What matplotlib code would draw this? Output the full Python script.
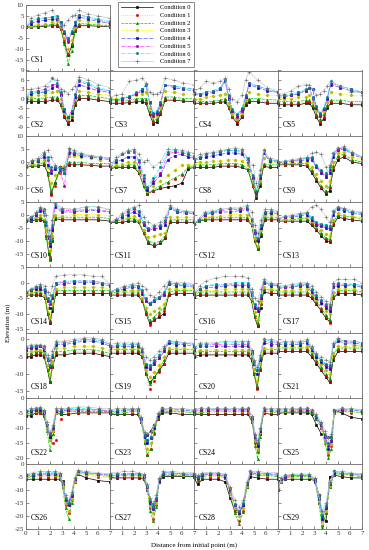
import matplotlib
matplotlib.use("Agg")
import matplotlib.pyplot as plt

plt.rcParams['font.family'] = ['Liberation Serif', 'DejaVu Serif']

CONDITIONS = ["Condition 0", "Condition 1", "Condition 2", "Condition 3",
              "Condition 4", "Condition 5", "Condition 6", "Condition 7"]

X_TICKS = [0, 1, 2, 3, 4, 5, 6, 7]

# ---- data: x positions and elevations for Conditions 0..7 ----
CS1_X = [0, 0.4, 1.0, 1.6, 2.2, 2.6, 2.9, 3.2, 3.5, 3.8, 4.1, 4.4, 5.2, 6.0, 7.0]
CS1_Y = [[0, 0, 0, 0.3, 0.5, 0.5, -1, -7, -13, -9, -2, 0.5, 0.5, 0.3, 0],
         [0, 0.2, 0.3, 0.5, 0.8, 1, -1, -6, -12.5, -8, -1, 1, 1, 0.5, 0.3],
         [0, 0.3, 0.5, 0.8, 1.2, 1.5, -0.5, -8, -17, -11, -2, 1.5, 1.3, 0.8, 0.5],
         [0, 0.6, 1.2, 1.5, 2, 2.5, 0, -5, -10, -6, 0, 3, 2.5, 1.5, 1],
         [0, 1.5, 2.5, 3, 3.5, 3.5, 1, -3, -6, -3, 1, 4.5, 3.5, 2.5, 1.5],
         [0, 2, 3.5, 4, 4.5, 4.5, 2, -3, -7, -3, 2, 5.5, 4.5, 3, 2],
         [0, 2.5, 4, 4, 4.5, 5, 2, -2, -5, -2, 2, 5.5, 4.5, 3.5, 2.5],
         [0, 4, 5.5, 6.5, 7.5, 4, 0.5, 1, 3, 5, 5.5, 7.5, 6, 5, 4]]

CS2_X = [0, 0.4, 1.0, 1.6, 2.2, 2.6, 2.9, 3.2, 3.5, 3.8, 4.1, 4.4, 5.2, 6.0, 7.0]
CS2_Y = [[-1, -1, -1, -1, -0.5, -0.5, -2, -6, -8, -7, -2, 0, 0, -0.5, -1],
         [-0.5, -0.5, -0.5, -0.3, 0, 0, -2, -5.5, -7.5, -6, -1.5, 0.5, 0.5, 0, -0.3],
         [0, 0, 0, 0.2, 0.5, 0.5, -1.5, -5, -7, -5.5, -1, 1, 1, 0.5, 0],
         [0, 0.5, 1, 1.2, 2, 2.5, 0, -4.5, -6.5, -5, 0, 2.5, 2, 1.5, 1],
         [0, 1.5, 2, 2, 3.5, 4, 1, -4, -6, -4.5, 0.5, 4.5, 3.5, 2.5, 2],
         [0, 2, 2.5, 3, 4.5, 4.5, 1.5, -3.5, -6, -4, 1, 5.5, 4.5, 3, 2.5],
         [0, 2, 2, 2.5, 6.5, 5, 2, -3.5, -6, -4, 1.5, 6, 5, 3.5, 2.5],
         [0.5, 3, 3.5, 4, 6.5, 6, 3, 2.5, 1.5, 3, 4, 7, 6, 4.5, 3.5]]

CS3_X = [0, 0.5, 1.0, 1.6, 2.2, 2.7, 3.0, 3.3, 3.6, 3.9, 4.2, 4.6, 5.3, 6.1, 7.0]
CS3_Y = [[-1.5, -1.5, -1.5, -1.3, -1, -1, -1.5, -5, -8, -7.5, -5, -0.5, -0.5, -0.8, -1],
         [-1, -1, -1, -0.8, -0.5, -0.5, -1, -4.5, -7.5, -7, -4.5, 0, 0, -0.5, -0.5],
         [-0.5, -0.5, -0.5, -0.5, 0, 0, 0, -4, -7, -6.5, -4, 0.5, 0.5, 0, 0],
         [0, 0, 0.3, 0.5, 1, 1.5, 2, -3, -6, -5.5, -3, 2.5, 2, 1.5, 1.5],
         [0, -0.5, 0, 0.5, 1.5, 2.5, 4.5, -1, -5, -4.5, -1.5, 4.5, 3.5, 3, 2.5],
         [0, -0.5, 0, 0.5, 1.5, 3, 4.5, -1.5, -5.5, -5, -2, 4.5, 4, 3.5, 3],
         [0, -0.5, 0.2, 0.8, 2, 3, 4.5, -1, -4.5, -4, -1, 4.5, 4, 3.5, 3],
         [0.5, 1, 1.5, 5.5, 6, 6.5, 5, 2, 1.5, 1.5, 2, 6.5, 6, 5, 4.5]]

CS4_X = [0, 0.5, 1.0, 1.6, 2.2, 2.6, 2.9, 3.2, 3.6, 4.0, 4.3, 4.6, 5.3, 6.1, 7.0]
CS4_Y = [[-1.5, -1.5, -1.5, -1.5, -1.2, -1, -3, -6, -8, -6, -2, -1, -1, -1.5, -1.5],
         [-1, -1.5, -1.5, -1.2, -1, -0.5, -3, -6, -7.5, -5.5, -1.5, -0.5, -0.5, -1, -1],
         [-0.5, -1, -1, -0.8, -0.5, 0, -2.5, -5.5, -7, -5, -1, 0, 0, -0.3, -0.5],
         [0, 0, 0.5, 0.8, 1, 1.5, -1.5, -5, -6.5, -4.5, -0.5, 2, 1.5, 1, 1],
         [1.5, 1, 1.5, 2, 3, 5.5, 0, -4, -5.5, -3.5, 0.5, 4.5, 3.5, 2.5, 2],
         [1.5, 1.5, 2, 2.5, 3.5, 6, 0.5, -4, -6, -4, 0.5, 5, 4, 3, 2],
         [2, 1.5, 2, 2.5, 3.5, 6, 1, -3.5, -5, -3, 1, 5, 4, 3, 2],
         [2, 3.5, 5.5, 5, 5.5, 6.5, 3, 0, -1, 1, 6, 8.5, 6, 3.5, 2.5]]

CS5_X = [0, 0.5, 1.1, 1.7, 2.3, 2.6, 2.9, 3.2, 3.5, 3.8, 4.1, 4.4, 5.2, 6.1, 7.0]
CS5_Y = [[-2, -2, -2, -2, -1.5, -1.5, -3, -6, -8, -6.5, -3, -1.5, -1.5, -2, -2],
         [-1.5, -1.5, -1.5, -1.5, -1, -1, -2.5, -5.5, -7.5, -6, -2.5, -1, -1, -1.5, -1.5],
         [-1, -1, -1, -1, -0.5, -0.5, -2, -5, -6.5, -5, -2, -0.5, -0.5, -1, -1],
         [0, 0, 0, 0.5, 0.5, 1, -1, -4, -5.5, -4, -1, 2, 1.5, 1, 1],
         [0.5, 0.5, 1, 1.5, 2.5, 3.5, 3, -3, -5, -3.5, 0, 4.5, 3.5, 2.5, 2],
         [1, 1, 1, 2, 2.5, 3.5, 0, -3, -5.5, -3.5, 0, 5, 4, 3, 2],
         [1, 1, 1.5, 2, 3, 3.5, 0.5, -2.5, -4.5, -3, 0.5, 5.5, 4, 3, 2],
         [1.5, 1.5, 2.5, 4, 4.5, 4.5, 3, 1, 1.5, 2.5, 4, 5.5, 4, 2, 2]]

CS6_X = [0, 0.5, 1.0, 1.5, 1.8, 2.1, 2.4, 2.8, 3.2, 3.6, 4.0, 4.6, 5.4, 6.2, 7.0]
CS6_Y = [[-2, -1.5, -1.5, -1, -4, -12, -8, -3, -2, -1, -1, -1, -1.2, -1.5, -1.5],
         [-2, -1.5, -1, -0.5, -5, -12.5, -9, -4, -3, -0.5, -0.5, -0.5, -1, -1, -1],
         [-2, -1, -1, 0, -4, -11, -8, -3.5, -2.5, 0, 0, 0, -0.5, -0.5, -0.5],
         [-2, -0.5, 0, 1, -2, -8, -5, -2, -1.5, 2.5, 2.5, 2, 1.5, 1, 1],
         [-1.5, 0, 0.5, 2, -1, -4, -2.5, -2, -4, 3.5, 3, 2.5, 2, 1.5, 1],
         [-1.5, 0.5, 1, 3, 1, -3, -2, -3, -9, 4, 3.5, 3, 2.5, 2, 1.5],
         [-1.5, 0.5, 1, 3, 2, -2, -2, -2.5, -4, 5, 4, 3, 2.5, 2, 1.5],
         [-1.5, 1, 1.5, 4, 4.5, 2, -1, -2, -2, 5.5, 4.5, 3.5, 2.5, 2, 1.5]]

CS7_X = [0, 0.5, 1.0, 1.5, 2.0, 2.4, 2.8, 3.1, 3.6, 4.2, 4.8, 5.4, 6.0, 6.5, 7.0]
CS7_Y = [[-2.5, -2, -2, -2, -2, -4, -9, -12, -11, -10, -9.5, -9, -8, -2.5, -2],
         [-2, -1.5, -1.5, -1.5, -1.5, -4, -9, -12, -11, -9.5, -8, -6.5, -5, -2, -2],
         [-2, -1.5, -1.5, -1, -1, -3.5, -9, -12, -10.5, -9, -7.5, -6, -4.5, -2, -1.5],
         [-2, -1, -0.5, 0, 0, -3, -8, -11, -9, -7, -5, -3, -1, -1, -1],
         [-2, 0, 1, 2, 2, -2, -7, -10.5, -8, -5, 1, 2.5, 3, 2, 1.5],
         [-2, 1, 3, 4, 4, 0, -6, -10, -7, -4, 3, 4, 3.5, 3, 2],
         [-2, 1, 3, 4, 4.5, 1, -5, -9.5, -6, -2, 4, 4.5, 4, 3, 2.5],
         [-2, 2, 3.5, 4.5, 5, 3, 0, 1, -2, 0, 5, 5, 4.5, 4, 3.5]]

CS8_X = [0, 0.5, 1.0, 1.6, 2.2, 2.8, 3.4, 4.0, 4.5, 4.9, 5.2, 5.5, 5.8, 6.3, 7.0]
CS8_Y = [[-2, -2, -2, -2, -1.5, -1.5, -1.5, -2, -3, -9, -13.5, -9, -1.5, -2, -2],
         [-1.5, -1.5, -1.5, -1.5, -1, -1, -1, -1.5, -3, -9, -13, -8, -1, -1.5, -1.5],
         [-1, -1, -1, -1, -0.5, -0.5, -0.5, -1, -2.5, -8.5, -13, -8, -0.5, -1, -1],
         [-0.5, 0, 0, 0.5, 0.5, 1, 1, 0.5, -1, -7, -12, -7, 1.5, 0, -0.5],
         [0.5, 1.5, 2, 2.5, 3, 3.5, 3.5, 3, 0, -6, -11.5, -6, 3.5, 0.5, 0],
         [1, 2, 3, 3.5, 4, 4.5, 4.5, 4, 1, -5.5, -12, -5.5, 4, 1, 0.5],
         [1, 2, 3, 3.5, 4, 4.5, 4.5, 4.5, 1.5, -5, -11, -5, 4.5, 1, 0.5],
         [1.5, 3, 3.5, 4, 4.5, 5, 5.5, 5, 0, -1, -8, -3, 4.5, 1.5, 1]]

CS9_X = [0, 0.6, 1.2, 1.8, 2.4, 2.8, 3.2, 3.6, 4.0, 4.3, 4.6, 5.0, 5.5, 6.2, 7.0]
CS9_Y = [[-1, -1, -1, -1, -1.5, -4, -7, -10, -12, -11, -3, 1, 2, 0, -0.5],
         [-1, -1, -1, -0.5, -1, -3.5, -6.5, -9.5, -11.5, -10, -2, 2, 2.5, 0.5, 0],
         [-0.5, -0.5, -0.5, -0.5, -0.5, -3, -6, -9, -11, -9, -1.5, 2.5, 3, 1, 0],
         [0, 0, 0, 0, 0, -2, -4.5, -7, -9, -7, 0, 3.5, 4, 2, 1],
         [0, 0, 0.5, 0.5, 1, 1, -2, -4, -5.5, -4, 2, 4.5, 5, 3, 1.5],
         [0, 0.5, 0.5, 1, 1.5, 1.5, -1.5, -3.5, -5, -3, 3, 5, 5.5, 3.5, 2],
         [0, 0.5, 1, 1, 1.5, 2, -1, -3, -4, -2, 3.5, 5.5, 5.5, 3.5, 2],
         [0, 0.5, 1, 1.5, 2, 3.5, 4, 3, -2, -1, 3.5, 5.5, 6, 4, 2]]

CS10_X = [0, 0.4, 0.8, 1.2, 1.5, 1.7, 1.9, 2.0, 2.15, 2.4, 3.0, 4.0, 5.0, 6.0, 7.0]
CS10_Y = [[-2.5, -2.5, -2, -2, -2.5, -8, -15, -17, -10, -1.5, -2, -2, -2, -2, -2.5],
          [-2.5, -2, -2, -1.5, -2, -8, -14, -16, -9, -1, -1.5, -1.5, -1.5, -1.5, -2],
          [-2.5, -2, -1.5, -1, -2, -9, -15, -17.5, -10, -1, -1, -1, -1, -1, -1.5],
          [-2, -1.5, -1, 0, 0, -6, -11, -14, -8, 0, -0.5, 0, 0, 0, -0.5],
          [-2, -1.5, 0, 1.5, 1, -4, -9, -12, -6, 3, 1, 1, 1.5, 1.5, 1],
          [-2, -1, 0, 2, 1.5, -3, -9, -11, -5, 3.5, 1.5, 1.5, 2, 2, 1],
          [-2, -1, 0.5, 2.5, 2, -3, -8, -10, -4, 4, 2, 2, 3, 3, 1.5],
          [-2, -1, 1, 3, 2, 0, -6, -8, -2, 4.5, 2.5, 2, 3, 3, 2]]

CS11_X = [0, 0.5, 1.0, 1.5, 2.0, 2.4, 2.8, 3.2, 3.7, 4.2, 4.6, 5.0, 5.6, 6.3, 7.0]
CS11_Y = [[-3, -3, -3, -2.5, -2.5, -3, -7, -11, -12, -11, -9, -3, -3, -3, -3],
          [-3, -2.5, -2.5, -2, -2, -3, -7, -10.5, -11.5, -10.5, -8.5, -2.5, -2.5, -2.5, -2.5],
          [-3, -2.5, -2, -1.5, -1.5, -2.5, -6.5, -10, -11, -10, -8, -2, -2, -2, -2],
          [-3, -2, -1.5, -1, -0.5, -2, -6, -8.5, -8, -7.5, -7, -1, -1, -1, -1],
          [-3, -2, -1, 0, 1, 0, -4, -6, -5.5, -5, -4, 2.5, 1, 0.5, 0.5],
          [-3, -2, -0.5, 1, 2, 1, -3.5, -5.5, -5, -4.5, -3, 3, 1.5, 1, 1],
          [-3, -2, 0, 1.5, 2.5, 1.5, -3, -5, -4.5, -4, -2, 3, 1.5, 1, 1],
          [-3, -1.5, 0.5, 2, 3, 3.5, -1, -3, -4, -3, -1, 3.5, 2, 1.5, 1]]

CS12_X = [0, 0.4, 0.9, 1.5, 2.2, 3.0, 3.8, 4.4, 4.8, 5.05, 5.3, 5.55, 5.9, 6.4, 7.0]
CS12_Y = [[-3.5, -2.5, -2, -2, -2, -2, -2, -2, -4, -10, -13, -8, -2, -2, -2],
          [-3.5, -2.5, -1.5, -1.5, -1.5, -1.5, -1.5, -1.5, -4, -10, -12.5, -7.5, -1.5, -1.5, -1.5],
          [-3.5, -2.5, -1.5, -1, -1, -1, -1, -1, -3.5, -9.5, -13, -7, -1, -1, -1],
          [-3.5, -2, -1, -0.5, -0.5, 0, 0, 0, -3, -9, -12, -6, 0, 0, 0],
          [-3.5, -2, 0, 0.5, 1, 1, 1.5, 2, -2, -7, -10, -5, 0.5, 0.5, 0.5],
          [-3.5, -2, 0, 1, 1.5, 2, 2, 2.5, -2, -6.5, -9.5, -4, 1, 1, 1],
          [-3.5, -2, 0.5, 1, 2, 2.5, 2.5, 3, -1.5, -6, -9, -4, 1, 1.5, 1],
          [-3.5, -1.5, 1, 1.5, 2, 2.5, 2.5, 3.5, 1, -4, -7, -2, 2, 2, 1.5]]

CS13_X = [0, 0.6, 1.2, 1.8, 2.4, 2.8, 3.2, 3.6, 4.0, 4.3, 4.6, 5.0, 5.5, 6.2, 7.0]
CS13_Y = [[-2.5, -2.5, -2.5, -2.5, -2.5, -4, -6, -8, -10, -10.5, -4, -1, -1.5, -2, -2.5],
          [-2.5, -2.5, -2, -2, -2, -3.5, -5.5, -7.5, -9.5, -10, -3.5, -0.5, -1, -1.5, -2],
          [-2, -2, -2, -1.5, -1.5, -3, -5, -7, -9, -9.5, -3, 0, -0.5, -1, -1.5],
          [-2, -1.5, -1.5, -1, -1, -2.5, -4.5, -6, -7.5, -8, -2, 0.5, 0, -0.5, -1],
          [-1.5, -1, -1, -0.5, 0, -2, -4, -4.5, -5, -5.5, 0, 2, 1.5, 0.5, 0],
          [-1.5, -1, -0.5, 0, 0.5, -1.5, -3.5, -4, -4.5, -5, 1, 2.5, 2, 1, 0.5],
          [-1.5, -0.5, -0.5, 0, 0.5, -1, -3, -3.5, -4, -4.5, 1.5, 3, 2, 1, 0.5],
          [-1.5, -0.5, 0, 0.5, 1, 3, 3.5, 2, -1, -3, 1.5, 3, 2.5, 1.5, 1]]

CS14_X = [0, 0.4, 0.8, 1.2, 1.6, 1.8, 2.0, 2.2, 2.5, 3.2, 4.0, 4.8, 5.6, 6.3, 7.0]
CS14_Y = [[-4, -4, -4, -4, -5, -10, -13, -9, -3.5, -3.5, -3.5, -3.5, -3.5, -3.5, -3.5],
          [-4, -3.5, -3.5, -3.5, -5, -10, -12.5, -8, -3, -3, -3, -3, -3, -3, -3],
          [-3.5, -3.5, -3, -3, -4.5, -9.5, -12, -8, -2.5, -2.5, -2.5, -2.5, -2.5, -2.5, -2.5],
          [-3.5, -3, -2.5, -2.5, -4, -8, -11, -7, -2, -1.5, -1.5, -1.5, -1.5, -1.5, -2],
          [-3, -2.5, -2, -2, -3, -6, -8, -5, -0.5, -0.5, 0, 0, 0, -0.5, -1],
          [-3, -2.5, -1.5, -1.5, -2.5, -5.5, -7, -4.5, 0, 0, 0.5, 0.5, 0.5, 0, -0.5],
          [-3, -2, -1.5, -1, -2, -5, -6, -4, 0, 0.5, 0.5, 0.5, 0.5, 0, -0.5],
          [-3, -2, -1, -0.5, -1, -3, -4, -1, 2, 2.5, 2.5, 2.5, 2, 2, -0.5]]

CS15_X = [0, 0.6, 1.2, 1.8, 2.3, 2.7, 3.0, 3.3, 3.7, 4.1, 4.5, 4.9, 5.5, 6.2, 7.0]
CS15_Y = [[-4, -4, -4, -4, -4, -6, -10, -13, -12, -11, -10, -4, -3.5, -3.5, -3.5],
          [-3.5, -3.5, -3.5, -3.5, -3.5, -6, -10, -13.5, -12, -10.5, -9, -3.5, -3, -3, -3],
          [-3.5, -3, -3, -3, -3, -5.5, -9, -12, -11, -9.5, -8, -3, -2.5, -2.5, -2.5],
          [-3, -2.5, -2.5, -2.5, -2.5, -5, -8, -10, -9, -8, -7, -2, -2, -2, -2],
          [-3, -2.5, -2, -1.5, -1.5, -3.5, -6, -7, -6, -5, -4, -0.5, -1, -1, -1.5],
          [-3, -2, -1.5, -1, -1, -3, -5.5, -6.5, -5.5, -4.5, -3.5, 0, -0.5, -0.5, -1],
          [-3, -2, -1.5, -1, -1, -2.5, -5, -6.5, -5.5, -4.5, -3, 0, -0.5, -0.5, -1],
          [-3, -2, -1, -0.5, 0, -1, -2, -4, -4.5, -3, -1, 0.5, 0, 0, -0.5]]

CS16_X = [0, 0.5, 1.0, 1.8, 2.6, 3.4, 4.0, 4.5, 4.8, 5.05, 5.3, 5.55, 5.8, 6.4, 7.0]
CS16_Y = [[-4.5, -4, -4, -4, -4, -4, -4, -4, -6, -11, -14, -8, -3, -3.5, -3.5],
          [-4, -3.5, -3.5, -3.5, -3.5, -3.5, -3.5, -3.5, -6, -11, -13.5, -7, -2.5, -3, -3],
          [-4, -3, -3, -3, -3, -3, -3, -3, -5.5, -10.5, -13, -7, -2, -2.5, -2.5],
          [-3.5, -2.5, -2.5, -2.5, -2, -2, -2, -2, -5, -9.5, -12, -6, -1.5, -2, -2],
          [-3.5, -2, -1.5, -1.5, -1, -1, -1, -1, -4, -8, -9, -5, 0, -1, -1],
          [-3.5, -2, -1, -1, -0.5, -0.5, -0.5, -0.5, -3.5, -7.5, -8.5, -4.5, 0, -0.5, -0.5],
          [-3.5, -2, -1, -0.5, -0.5, 0, 0, 0, -3, -7, -8, -4, 0.5, -0.5, -0.5],
          [-3, -1, 0.5, 1.5, 2, 2, 2, 1.5, -2, -5, -6, -2, 1, 0, -0.5]]

CS17_X = [0, 0.6, 1.2, 1.8, 2.4, 2.8, 3.2, 3.6, 4.0, 4.3, 4.6, 5.0, 5.6, 6.3, 7.0]
CS17_Y = [[-4, -4, -4, -4, -4, -5, -7, -9, -11.5, -12.5, -5, -3.5, -3.5, -3.5, -4],
          [-3.5, -3.5, -3.5, -3.5, -3.5, -4.5, -6.5, -8.5, -11, -13, -4.5, -3, -3, -3, -3.5],
          [-3, -3, -3, -3, -3, -4, -6, -8, -10.5, -12, -4, -2.5, -2.5, -2.5, -3],
          [-2.5, -2.5, -2.5, -2, -2, -3.5, -5.5, -7, -9, -10, -3, -2, -2, -2, -2.5],
          [-2, -1.5, -1.5, -1, -1, -3, -5, -6.5, -8, -9, -1.5, -1, -1, -1, -1.5],
          [-1.5, -1.5, -1, -1, -0.5, -2.5, -4.5, -6, -7.5, -8, -1, -0.5, -0.5, -0.5, -1],
          [-1.5, -1, -1, -0.5, -0.5, -2, -4, -5.5, -7, -7.5, -0.5, 0, -0.5, -0.5, -1],
          [-1, -1, -0.5, 0, 0, -1, -3, -4.5, -6, -7, 0, 1, 1, 1, 0]]

CS18_X = [0, 0.4, 0.8, 1.2, 1.5, 1.8, 2.0, 2.2, 2.5, 3.2, 4.0, 4.8, 5.6, 6.3, 7.0]
CS18_Y = [[-5, -5, -4.5, -4.5, -5, -9, -12.5, -8, -4.5, -4.5, -4, -4, -4, -4.5, -5],
          [-4.5, -4.5, -4, -4, -4.5, -9, -12.5, -8, -4, -4, -3.5, -3.5, -3.5, -4, -4.5],
          [-4, -4, -3.5, -3.5, -4, -8.5, -12, -7.5, -3.5, -3.5, -3, -3, -3, -3.5, -4],
          [-3.5, -3.5, -3, -3, -3.5, -7.5, -10, -6.5, -2.5, -2.5, -2, -2, -2, -2.5, -3],
          [-3, -2.5, -2.5, -2, -3, -6, -8, -5, -1.5, -1.5, -1, -0.5, -0.5, -1, -2],
          [-2.5, -2.5, -2, -2, -2.5, -6, -8, -5, -1, -1, -0.5, 0, 0, -0.5, -1.5],
          [-2.5, -2, -2, -1.5, -2, -5.5, -7.5, -4.5, -1, -1, -0.5, 0, 0, -0.5, -1.5],
          [-2, -1.5, -1.5, -1.5, -2, -4.5, -6, -3.5, -0.5, -0.5, 0, 0.5, 0.5, 0, -1]]

CS19_X = [0, 0.6, 1.2, 1.8, 2.3, 2.7, 3.0, 3.3, 3.7, 4.1, 4.5, 4.9, 5.5, 6.2, 7.0]
CS19_Y = [[-4, -4, -4, -4, -4, -5, -10, -12.5, -11, -9, -7, -4, -4, -4, -4],
          [-3.5, -3.5, -3.5, -3.5, -3.5, -5, -10, -14.5, -12, -9.5, -7, -3.5, -3.5, -3.5, -3.5],
          [-3, -3, -3, -3, -3, -4.5, -9.5, -13, -11, -8.5, -6, -3, -3, -3, -3],
          [-2.5, -2.5, -2.5, -2.5, -2.5, -4, -9, -11, -9.5, -7.5, -5, -2.5, -2.5, -2.5, -2.5],
          [-2.5, -2, -2, -2, -2, -3.5, -8, -8.5, -7, -5.5, -3.5, -1, -1.5, -1.5, -2],
          [-2, -2, -1.5, -1.5, -1.5, -3, -7.5, -8, -6.5, -5, -3, -0.5, -1, -1, -1.5],
          [-2, -1.5, -1.5, -1.5, -1.5, -3, -7, -7.5, -6, -4.5, -2.5, -0.5, -1, -1, -1.5],
          [-1.5, -1, -1, -1, -1, -2.5, -5, -6, -5, -3.5, -2, -0.5, -0.5, -1, -1]]

CS20_X = [0, 0.5, 1.0, 1.8, 2.6, 3.4, 4.0, 4.5, 4.8, 5.0, 5.25, 5.5, 5.8, 6.4, 7.0]
CS20_Y = [[-5, -4.5, -4.5, -4.5, -4.5, -4.5, -4.5, -4.5, -6, -10, -14, -9, -4, -4, -4],
          [-4.5, -4, -4, -4, -4, -4, -4, -4, -5.5, -10, -14.5, -9, -3.5, -3.5, -3.5],
          [-4, -3.5, -3.5, -3.5, -3.5, -3.5, -3.5, -3.5, -5, -9.5, -13.5, -8, -3, -3, -3],
          [-3.5, -3, -3, -3, -3, -3, -3, -3, -4.5, -8.5, -12, -7, -2.5, -2.5, -2.5],
          [-3, -2, -2, -2, -2, -2, -2, -2, -4, -7, -10, -6, -1, -1.5, -1.5],
          [-2.5, -1.5, -1.5, -1.5, -1.5, -1.5, -1.5, -1.5, -3.5, -6.5, -9, -5.5, -0.5, -1, -1],
          [-2.5, -1.5, -1.5, -1, -1, -1, -1, -1, -3.5, -6.5, -9, -5, 0, -0.5, -1],
          [-2, -1, -1, -1, -0.5, -0.5, -0.5, -0.5, -3, -6, -8, -4.5, 0, 0, -0.5]]

CS21_X = [0, 0.6, 1.2, 1.8, 2.4, 2.8, 3.2, 3.6, 4.0, 4.3, 4.6, 5.0, 5.6, 6.3, 7.0]
CS21_Y = [[-3.5, -3.5, -3.5, -3.5, -3.5, -5, -7, -9, -11, -12.5, -6, -3.5, -3.5, -3.5, -3.5],
          [-3, -3, -3, -3, -3, -4.5, -6.5, -8.5, -10.5, -12, -5, -3, -3, -3, -3],
          [-2.5, -2.5, -2.5, -2.5, -2.5, -4, -6, -8, -10, -11.5, -4.5, -2.5, -2.5, -2.5, -2.5],
          [-2, -2, -2, -2, -2, -3.5, -5.5, -7, -9, -10, -4, -2, -2, -2, -2],
          [-1.5, -1.5, -1.5, -1.5, -1, -3, -5, -6.5, -8, -8.5, -2, -0.5, -1, -1, -1.5],
          [-1, -1, -1, -1, -0.5, -2.5, -4.5, -6, -7.5, -8, -1.5, 0, -0.5, -0.5, -1],
          [-1, -1, -1, -1, -0.5, -2.5, -4.5, -6, -7, -7.5, -1.5, 0, -0.5, -0.5, -1],
          [-1, -0.5, -0.5, -0.5, 0, -2, -4, -5, -6, -6.5, -1, 0.5, -1, -1.5, -2]]

CS22_X = [0, 0.4, 0.8, 1.2, 1.5, 1.75, 2.0, 2.25, 2.5, 2.9, 3.5, 4.3, 5.2, 6.1, 7.0]
CS22_Y = [[-6, -6, -5, -5, -6, -10, -13, -11, -5, -5.5, -5.5, -5, -5, -5, -5],
          [-5.5, -5.5, -5, -5, -6, -10, -14, -15, -14, -7, -5, -5, -5, -5, -5],
          [-5, -5, -4.5, -4.5, -5.5, -11, -17.5, -12, -5, -5, -4.5, -4.5, -4.5, -4.5, -4.5],
          [-5, -4.5, -4.5, -4, -5, -10, -14, -11, -5, -4.5, -4.5, -4, -4, -4, -4.5],
          [-4.5, -4.5, -4, -4, -5, -9, -13, -10, -4.5, -4.5, -4, -4, -4, -4, -4.5],
          [-4.5, -4, -4, -3.5, -4.5, -9, -12.5, -10, -4.5, -4, -4, -4, -4, -4, -4.5],
          [-4.5, -4, -3.5, -3.5, -4.5, -9, -12, -9.5, -4, -4, -3.5, -3.5, -3.5, -4, -4],
          [-4, -3.5, -3.5, -3, -4, -8, -11.5, -9, -3.5, -3.5, -3.5, -3, -3, -3.5, -3.5]]

CS23_X = [0, 0.6, 1.2, 1.8, 2.3, 2.6, 2.9, 3.1, 3.4, 3.7, 4.0, 4.3, 5.0, 6.0, 7.0]
CS23_Y = [[-5.5, -5.5, -5.5, -5.5, -5.5, -8, -12, -12.5, -11, -9, -7, -5, -5, -5.5, -5.5],
          [-5, -5, -5, -5, -5, -8, -15, -19, -17, -12, -7, -4.5, -4.5, -5, -5],
          [-5, -5, -5, -4.5, -4.5, -8, -15, -19, -17, -11.5, -6.5, -4.5, -4.5, -4.5, -5],
          [-4.5, -4.5, -4.5, -4.5, -4.5, -7.5, -14, -17, -15, -10.5, -6, -4, -4, -4.5, -4.5],
          [-4.5, -4.5, -4, -4, -4, -7, -13, -15, -13.5, -10, -6, -4, -4, -4, -4.5],
          [-4, -4, -4, -4, -4, -7, -12.5, -14, -13, -9.5, -5.5, -3.5, -3.5, -4, -4],
          [-4, -4, -4, -4, -4, -7, -12.5, -14, -13, -9.5, -5.5, -3.5, -3.5, -4, -4],
          [-4, -3.5, -3.5, -3.5, -3.5, -6.5, -11.5, -12, -11.5, -9, -5, -3.5, -3.5, -3.5, -4]]

CS24_X = [0, 0.6, 1.2, 1.9, 2.6, 3.3, 4.0, 4.5, 4.85, 5.1, 5.3, 5.5, 5.8, 6.4, 7.0]
CS24_Y = [[-5.5, -5.5, -5.5, -5.5, -5.5, -5.5, -5.5, -5.5, -8, -14, -17, -12, -5, -5.5, -5.5],
          [-5, -5, -5, -5, -5, -5, -5, -5, -8, -15, -18, -12, -5, -5, -5],
          [-5, -5, -4.5, -4.5, -4.5, -4.5, -4.5, -4.5, -8, -16, -20.5, -13, -4.5, -4.5, -5],
          [-4.5, -4.5, -4.5, -4.5, -4.5, -4.5, -4.5, -4.5, -7.5, -14, -17, -11.5, -4.5, -4.5, -4.5],
          [-4.5, -4, -4, -4, -4, -4, -4, -4, -7, -13, -16, -11, -4, -4, -4.5],
          [-4, -4, -4, -4, -4, -4, -4, -4, -7, -13, -15.5, -11, -4, -4, -4],
          [-4, -3.5, -3.5, -3.5, -3.5, -3.5, -3.5, -3.5, -6.5, -12.5, -15, -10.5, -3.5, -4, -4],
          [-3.5, -3.5, -3.5, -3.5, -3.5, -3.5, -3.5, -3.5, -6, -12, -14, -10, -3.5, -3.5, -3.5]]

CS25_X = [0, 0.6, 1.2, 1.8, 2.4, 2.8, 3.2, 3.6, 3.9, 4.2, 4.45, 4.7, 5.3, 6.1, 7.0]
CS25_Y = [[-5, -5, -5, -5, -5, -5.5, -9, -12, -12.5, -13, -13, -4, -5, -6.5, -7],
          [-5, -4.5, -4.5, -4.5, -4.5, -5, -7, -10, -14, -19, -16, -5, -4.5, -5, -5],
          [-4.5, -4.5, -4.5, -4.5, -4.5, -5, -7, -10, -15, -20, -17, -5, -4.5, -4.5, -5],
          [-4.5, -4.5, -4, -4, -4, -4.5, -6.5, -9.5, -14, -18, -15.5, -4.5, -4, -4.5, -4.5],
          [-4, -4, -4, -4, -4, -4.5, -6.5, -9, -13, -17, -14.5, -4.5, -4, -4, -4.5],
          [-4, -4, -4, -4, -4, -4.5, -6, -9, -12.5, -16, -14, -4, -4, -4, -4],
          [-4, -4, -3.5, -3.5, -3.5, -4, -6, -8.5, -12, -15, -13, -4, -3.5, -4, -4],
          [-3.5, -3.5, -3.5, -3.5, -3.5, -4, -5.5, -8, -11, -13.5, -12, -4, -3.5, -3.5, -4]]

CS26_X = [0, 0.6, 1.2, 1.8, 2.4, 2.8, 3.05, 3.3, 3.55, 3.8, 4.05, 4.3, 5.0, 6.0, 7.0]
CS26_Y = [[-6, -6, -6, -6, -6, -6, -6.5, -13, -15, -12, -6, -4, -5.5, -6.5, -7],
          [-5.5, -5, -5, -5, -5, -5.5, -9, -16, -19, -14, -7, -3.5, -4.5, -5, -5.5],
          [-5, -5, -4.5, -4.5, -4.5, -5, -9, -17, -21, -15, -7, -3.5, -4, -4.5, -5],
          [-5, -4.5, -4.5, -4.5, -4.5, -5, -8.5, -15, -18, -13.5, -6.5, -3.5, -4, -4.5, -5],
          [-4.5, -4.5, -4, -4, -4, -4.5, -8, -14, -16, -12.5, -6, -3, -3.5, -4, -4.5],
          [-4.5, -4, -4, -4, -4, -4.5, -8, -13.5, -15.5, -12, -6, -3, -3.5, -4, -4.5],
          [-4, -4, -3.5, -3.5, -3.5, -4, -7.5, -13, -15, -11.5, -5.5, -3, -3.5, -4, -4],
          [-4, -3.5, -3, -3, -3, -3.5, -7, -12, -14, -11, -5.5, -2.5, -3, -3.5, -4]]

CS27_X = [0, 0.6, 1.2, 1.8, 2.4, 2.8, 3.1, 3.35, 3.6, 3.85, 4.1, 4.4, 5.2, 6.1, 7.0]
CS27_Y = [[-5.5, -5.5, -5.5, -5.5, -5.5, -6, -9, -14, -16, -13, -7, -5, -5, -5, -5],
          [-5, -5, -5, -5, -5, -5.5, -10, -17, -21, -16, -7, -4.5, -4.5, -4.5, -4.5],
          [-5, -4.5, -4.5, -4.5, -4.5, -5.5, -10, -18, -22, -16.5, -7, -4.5, -4.5, -4.5, -5],
          [-4.5, -4.5, -4.5, -4.5, -4.5, -5, -9.5, -16, -19, -15, -6.5, -4, -4, -4.5, -4.5],
          [-4.5, -4.5, -4, -4, -4, -5, -9, -15, -17.5, -14, -6.5, -4, -4, -4, -4.5],
          [-4, -4, -4, -4, -4, -4.5, -9, -14.5, -17, -13.5, -6, -3.5, -3.5, -4, -4],
          [-4, -4, -4, -4, -4, -4.5, -8.5, -14, -16.5, -13, -6, -3.5, -3.5, -4, -4],
          [-3.5, -3.5, -3, -3, -3.5, -4, -8, -13, -15, -12, -5.5, -3, -3, -3.5, -3.5]]

CS28_X = [0, 0.3, 0.7, 1.3, 2.0, 2.6, 3.0, 3.4, 3.75, 4.1, 4.4, 4.7, 5.3, 6.1, 7.0]
CS28_Y = [[-5.5, -8, -6, -6, -6, -7, -13, -18, -19, -16, -9, -5, -5.5, -6, -6],
          [-5, -6.5, -5.5, -5, -5, -5.5, -11, -18, -22, -18, -9, -4, -4.5, -5, -5],
          [-5, -6, -5, -4.5, -4.5, -5.5, -11, -19, -23, -18.5, -9, -4, -4.5, -4.5, -5],
          [-4.5, -5.5, -4.5, -4.5, -4.5, -5, -10.5, -17, -20, -17, -8.5, -3.5, -4, -4.5, -4.5],
          [-4.5, -5.5, -4.5, -4, -4, -5, -10, -16, -19, -16, -8, -3.5, -4, -4, -4.5],
          [-4, -5, -4, -4, -4, -4.5, -10, -16, -18.5, -15.5, -8, -3.5, -3.5, -4, -4],
          [-4, -5, -4, -3.5, -3.5, -4.5, -9.5, -15.5, -18, -15, -7.5, -3, -3.5, -4, -4],
          [-3.5, -4.5, -3.5, -3.5, -3.5, -4, -9, -14, -16.5, -14, -7, -3, -3, -3.5, -3.5]]

CS29_X = [0, 0.25, 0.6, 1.2, 1.9, 2.6, 3.1, 3.4, 3.7, 4.0, 4.3, 4.7, 5.3, 6.1, 7.0]
CS29_Y = [[-6.5, -6.5, -6, -6, -6, -6, -6.5, -12, -20, -22, -5, -4.5, -5, -5.5, -5.5],
          [-8, -7, -5.5, -5, -5, -5, -7, -15, -24, -19, -9, -4, -4.5, -4.5, -5],
          [-9, -7, -5.5, -5, -5, -5, -7, -15, -24.5, -19, -9, -4, -4, -4.5, -5],
          [-9.5, -6.5, -5, -5, -4.5, -5, -6.5, -14, -22, -18, -8.5, -3.5, -4, -4.5, -4.5],
          [-10, -6, -5, -4.5, -4.5, -4.5, -6.5, -13.5, -21, -17, -8, -3.5, -4, -4, -4.5],
          [-10, -6, -5, -4.5, -4.5, -4.5, -6, -13, -20, -16.5, -8, -3, -3.5, -4, -4],
          [-10, -6, -4.5, -4.5, -4, -4.5, -6, -13, -19.5, -16, -7.5, -3, -3.5, -4, -4],
          [-10, -5.5, -4.5, -4, -4, -4, -5.5, -12, -18, -15, -7, -3, -3, -3.5, -4]]

PANELS = [
    ("CS1", CS1_X, CS1_Y), ("CS2", CS2_X, CS2_Y), ("CS3", CS3_X, CS3_Y),
    ("CS4", CS4_X, CS4_Y), ("CS5", CS5_X, CS5_Y), ("CS6", CS6_X, CS6_Y),
    ("CS7", CS7_X, CS7_Y), ("CS8", CS8_X, CS8_Y), ("CS9", CS9_X, CS9_Y),
    ("CS10", CS10_X, CS10_Y), ("CS11", CS11_X, CS11_Y), ("CS12", CS12_X, CS12_Y),
    ("CS13", CS13_X, CS13_Y), ("CS14", CS14_X, CS14_Y), ("CS15", CS15_X, CS15_Y),
    ("CS16", CS16_X, CS16_Y), ("CS17", CS17_X, CS17_Y), ("CS18", CS18_X, CS18_Y),
    ("CS19", CS19_X, CS19_Y), ("CS20", CS20_X, CS20_Y), ("CS21", CS21_X, CS21_Y),
    ("CS22", CS22_X, CS22_Y), ("CS23", CS23_X, CS23_Y), ("CS24", CS24_X, CS24_Y),
    ("CS25", CS25_X, CS25_Y), ("CS26", CS26_X, CS26_Y), ("CS27", CS27_X, CS27_Y),
    ("CS28", CS28_X, CS28_Y), ("CS29", CS29_X, CS29_Y),
]

# y limits and ticks per row
ROW_YLIM = [(-20, 10), (-12, 9), (-15, 10), (-20, 5), (-16, 5), (-17, 2), (-22, 0), (-25, 0)]
ROW_YTICKS = [[10, 5, 0, -5, -10, -15], [9, 6, 3, 0, -3, -6, -9], [10, 5, 0, -5, -10],
              [5, 0, -5, -10, -15], [5, 0, -5, -10, -15], [0, -5, -10, -15],
              [0, -5, -10, -15, -20], [0, -5, -10, -15, -20, -25]]

# styles
LINE_COLORS = ['#000000', '#ff9c9c', '#00d000', '#ffff00', '#5a5aff', '#ff30ff', '#00ffff', '#c8c8c8']
MARK_COLORS = ['#000000', '#e00000', '#008a00', '#b8b800', '#0000c0', '#990099', '#008080', '#6e6e6e']
LINE_STYLES = ['-', ':', (0, (4, 1.5)), (0, (4, 1.5)), (0, (6, 2)), (0, (5, 1.5, 1, 1.5)),
               (0, (5, 1.5, 1, 1.5)), '-']
MARKERS = ['s', 'o', '^', 'D', 's', 'o', 'o', '+']

W, H = 369, 550
fig = plt.figure(figsize=(W / 100, H / 100), dpi=100)

LEFT, RIGHT, TOP, BOTTOM = 26, 362, 5, 529
col_w = (RIGHT - LEFT) / 4
row_h = (BOTTOM - TOP) / 8

SPINE = '#6a6a6a'
handles = None
for idx, (name, xs, ys) in enumerate(PANELS):
    if idx == 0:
        r, c = 0, 0
    else:
        r, c = 1 + (idx - 1) // 4, (idx - 1) % 4
    x0 = LEFT + c * col_w
    y0 = TOP + r * row_h
    ax = fig.add_axes([x0 / W, 1 - (y0 + row_h) / H, col_w / W, row_h / H])
    hs = []
    for k in range(8):
        ln, = ax.plot(xs, ys[k], color=LINE_COLORS[k], ls=LINE_STYLES[k], lw=0.5,
                      marker=MARKERS[k], ms=1.6 if MARKERS[k] != '+' else 2.3,
                      mfc=MARK_COLORS[k], mec=MARK_COLORS[k], mew=0.45,
                      label=CONDITIONS[k])
        hs.append(ln)
    if handles is None:
        handles = hs
    ax.set_xlim(0, 7)
    ax.set_ylim(*ROW_YLIM[r])
    ax.set_xticks(X_TICKS)
    ax.set_yticks(ROW_YTICKS[r])
    ax.tick_params(direction='in', length=2, width=0.4, labelsize=5, pad=1.5, colors='#333333')
    if c == 0:
        ax.set_yticklabels([str(t) for t in ROW_YTICKS[r]])
    else:
        ax.set_yticklabels([])
    if r == 7:
        if c == 0:
            ax.set_xticklabels([str(t) for t in X_TICKS])
        else:
            ax.set_xticklabels([''] + [str(t) for t in X_TICKS[1:]])
    else:
        ax.set_xticklabels([])
    for sp in ax.spines.values():
        sp.set_color(SPINE)
        sp.set_linewidth(0.6)
    ax.text(0.06, 0.1, name, transform=ax.transAxes, fontsize=5.5, ha='left', va='bottom')

leg = fig.legend(handles=handles, loc='upper left', bbox_to_anchor=(118 / W, 1 - 2 / H),
                 fontsize=4.6, frameon=True, fancybox=False, edgecolor='#555555',
                 handlelength=5.0, handletextpad=1.2, labelspacing=0.35,
                 borderpad=0.45, borderaxespad=0, markerscale=1.0)
leg.get_frame().set_linewidth(0.6)

fig.text(8 / W, 1 - 323 / H, "Elevation (m)", rotation=90, fontsize=5, ha='center', va='center')
fig.text(194 / W, 1 - 545 / H, "Distance from initial point (m)", fontsize=5, ha='center', va='center')

fig.savefig("out.png", dpi=100)
